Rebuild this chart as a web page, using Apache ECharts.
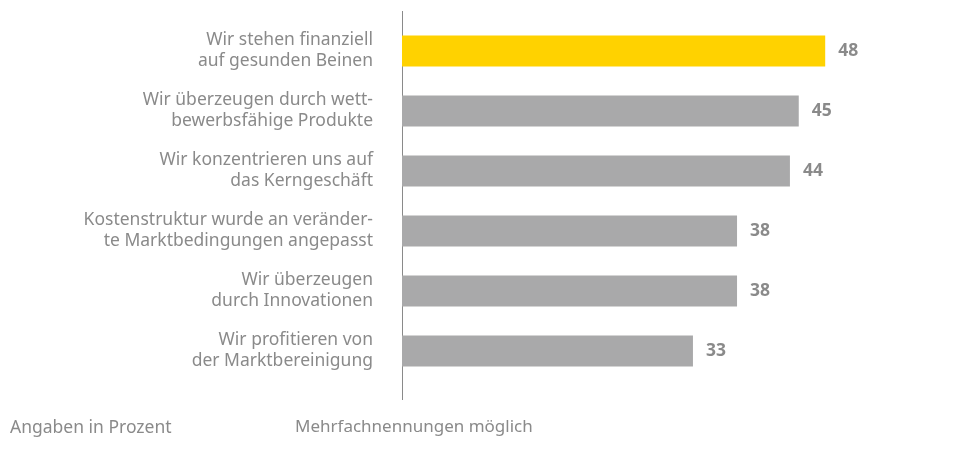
<!DOCTYPE html>
<html>
<head>
<meta charset="utf-8">
<script src="https://cdn.jsdelivr.net/npm/echarts@6/dist/echarts.min.js"></script>
<style>
  html, body { margin: 0; padding: 0; background: #fff; }
  #chart { width: 954px; height: 450px; }
</style>
</head>
<body>
<div id="chart"></div>
<script>
var categories = [
  'Wir stehen finanziell\nauf gesunden Beinen',
  'Wir überzeugen durch wett-\nbewerbsfähige Produkte',
  'Wir konzentrieren uns auf\ndas Kerngeschäft',
  'Kostenstruktur wurde an veränder-\nte Marktbedingungen angepasst',
  'Wir überzeugen\ndurch Innovationen',
  'Wir profitieren von\nder Marktbereinigung'
];
var values = [48, 45, 44, 38, 38, 33];
var highlight = 0;

var chart = echarts.init(document.getElementById('chart'));
var font = 'Noto Sans';
var textColor = '#8a8a8a';

var option = {
  animation: false,
  grid: { left: 402, top: 21, width: 529, height: 360 },
  xAxis: {
    type: 'value',
    min: 0,
    max: 60,
    show: false
  },
  yAxis: {
    type: 'category',
    inverse: true,
    data: categories,
    axisLine: { show: false },
    axisTick: { show: false },
    axisLabel: {
      margin: 29,
      color: textColor,
      fontFamily: font,
      fontSize: 17.5,
      lineHeight: 21,
      align: 'right'
    }
  },
  series: [{
    type: 'bar',
    barWidth: 31,
    data: values.map(function (v, i) {
      return {
        value: v,
        itemStyle: { color: i === highlight ? '#FFD200' : '#A9A9AA' }
      };
    }),
    label: {
      show: true,
      position: 'right',
      distance: 13,
      color: textColor,
      fontFamily: font,
      fontSize: 17.5,
      fontWeight: 'bold'
    }
  }],
  graphic: [
    { type: 'line', shape: { x1: 402.5, y1: 11, x2: 402.5, y2: 400 },
      style: { stroke: '#8a8a8a', lineWidth: 1 } },
    { type: 'text', left: 10, top: 419,
      style: { text: 'Angaben in Prozent', fill: textColor, font: '17.5px "Noto Sans"' } },
    { type: 'text', left: 295, top: 419,
      style: { text: 'Mehrfachnennungen möglich', fill: textColor, font: '17px "Noto Sans"' } }
  ]
};

chart.setOption(option);
</script>
</body>
</html>
